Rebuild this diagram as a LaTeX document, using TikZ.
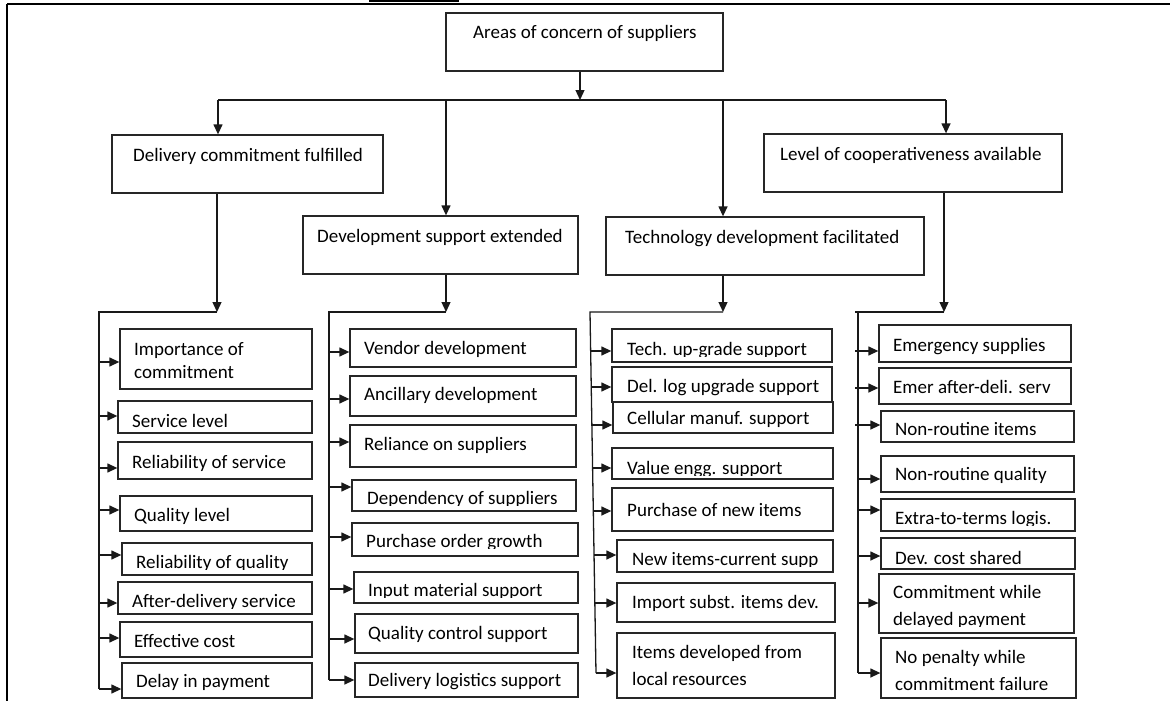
\documentclass[tikz,border=0pt]{standalone}
\usepackage{fontspec}
\setmainfont{Carlito}
\usetikzlibrary{arrows.meta,fit,calc}

\tikzset{
  box/.style={draw=black!85, line width=1.3pt, inner sep=0pt},
  txt/.style={font=\fontsize{19}{23}\selectfont, inner sep=0pt, text=black},
  conn/.style={line width=1.3pt, draw=black!90},
  arr/.style={conn, -{Triangle[length=10pt,width=9pt]}},
}

% a plain rectangle given by two corners
\newcommand\rectnode[5]{\node[box, fit={(#2,#3) (#4,#5)}] (#1) {};}
% a line of text inside a box, cut off at the box's inner bottom margin
\newcommand\boxtext[5][5]{%
  \begin{scope}
    \clip ([yshift=#1pt]#2.south west) rectangle (#2.north east);
    \node[txt, anchor=base west] at (#3,#4) {#5};
  \end{scope}}
% an arrow from a spine to a box: spine, box, vertical offset, horizontal offset on the spine
\newcommand\branch[4]{\draw[arr] ($(#1 |- #2.west)+(#4,#3)$) -- ($(#2.west)+(0,#3)$);}

\begin{document}
\begin{tikzpicture}[x=1pt,y=-1pt]
\useasboundingbox (0,0) rectangle (1170,701);

% frame
\draw[line width=2pt] (7,4.5) -- (1170,4.5);
\draw[line width=1.6pt] (7,4) -- (7,701);
\draw[line width=2.4pt] (369,1) -- (459,1);

% root and the four headings
\rectnode{root}{446}{13}{723}{71}   \boxtext{root}{473}{38.5}{Areas of concern of suppliers}
\rectnode{del}{112}{135}{383}{193}  \boxtext{del}{133}{161}{Delivery commitment fulfilled}
\rectnode{dev}{303}{216}{578}{274}  \boxtext{dev}{317}{242}{Development support extended}
\rectnode{tech}{606}{217}{924}{275} \boxtext{tech}{625}{243}{Technology development facilitated}
\rectnode{lev}{764}{134}{1062}{192} \boxtext{lev}{780}{160}{Level of cooperativeness available}

% root to headings
\coordinate (hub) at (580,100);
\coordinate (barL) at (218,100);
\coordinate (barR) at (946,100);
\coordinate (bar2) at (446,100);
\coordinate (bar3) at (723,100);
\draw[arr] (root.south -| hub) -- (hub);
\draw[conn] (barL) -- (barR);
\draw[arr] (barL) -- (barL |- del.north);
\draw[arr] (bar2) -- (bar2 |- dev.north);
\draw[arr] (bar3) -- (bar3 |- tech.north);
\draw[arr] (barR) -- (barR |- lev.north);

% ---- column 1: delivery commitment
\rectnode{c1}{120}{329}{312}{389}
\boxtext{c1}{134}{355}{Importance of}
\boxtext{c1}{134}{378}{commitment}
\rectnode{c2}{118}{401}{312}{433} \boxtext{c2}{132}{427}{Service level}
\rectnode{c3}{118}{442}{312}{479} \boxtext{c3}{132}{468}{Reliability of service}
\rectnode{c4}{120}{496}{312}{531} \boxtext{c4}{134}{521.5}{Quality level}
\rectnode{c5}{122}{543}{312}{575} \boxtext[6.5]{c5}{136}{568}{Reliability of quality}
\rectnode{c6}{118}{582}{312}{614} \boxtext[6.5]{c6}{132}{607}{After-delivery service}
\rectnode{c7}{120}{622}{312}{657} \boxtext{c7}{134}{647}{Effective cost}
\rectnode{c8}{122}{663}{312}{698} \boxtext{c8}{136}{687}{Delay in payment}

\coordinate (j1) at (217,312);
\coordinate (s1a) at (99,312);
\coordinate (s1b) at (99,689);
\draw[arr] (del.south -| j1) -- (j1);
\draw[conn] (j1) -- (s1a) -- (s1b);
\branch{s1a}{c1}{3}{0}
\branch{s1a}{c2}{-1}{0}
\branch{s1a}{c3}{7.5}{0}
\branch{s1a}{c4}{-3.5}{0}
\branch{s1a}{c5}{-4}{0}
\branch{s1a}{c6}{5}{0}
\branch{s1a}{c7}{-1.5}{0}
\branch{s1a}{c8}{8.5}{0}

% ---- column 2: development support
\rectnode{d1}{350}{329}{576}{367} \boxtext{d1}{364}{354}{Vendor development}
\rectnode{d2}{350}{376}{576}{416} \boxtext{d2}{364}{400.5}{Ancillary development}
\rectnode{d3}{350}{425}{576}{467} \boxtext{d3}{364}{450.5}{Reliance on suppliers}
\rectnode{d4}{352}{480}{576}{511} \boxtext[6.5]{d4}{367}{504}{Dependency of suppliers}
\rectnode{d5}{352}{523}{578}{556} \boxtext[8]{d5}{366}{547.5}{Purchase order growth}
\rectnode{d6}{354}{572}{578}{603} \boxtext[6.5]{d6}{368}{596}{Input material support}
\rectnode{d7}{355}{614}{578}{653} \boxtext{d7}{368}{639}{Quality control support}
\rectnode{d8}{355}{663}{578}{697} \boxtext{d8}{368}{686.5}{Delivery logistics support}

\coordinate (j2) at (446,312);
\coordinate (s2a) at (329,312);
\coordinate (s2b) at (329,680);
\draw[arr] (dev.south -| j2) -- (j2);
\draw[conn] (j2) -- (s2a) -- (s2b);
\branch{s2a}{d1}{4}{0}
\branch{s2a}{d2}{3}{0}
\branch{s2a}{d3}{-4}{0}
\branch{s2a}{d4}{-8.5}{0}
\branch{s2a}{d5}{-2.5}{0}
\branch{s2a}{d6}{1.5}{0}
\branch{s2a}{d7}{5.5}{0}
\branch{s2a}{d8}{0}{0}

% ---- column 3: technology development
\rectnode{t1}{612}{329}{832}{362} \boxtext[6.5]{t1}{627}{355}{Tech. up-grade support}
\rectnode{t2}{612}{367}{832}{402} \boxtext[3]{t2}{627}{392.5}{Del. log upgrade support}
\rectnode{t3}{613}{402}{833}{433} \boxtext[4]{t3}{627}{424}{Cellular manuf. support}
\rectnode{t4}{612}{448}{833}{479} \boxtext[4]{t4}{627}{474.5}{Value engg. support}
\rectnode{t5}{612}{488}{833}{531} \boxtext{t5}{627}{516.5}{Purchase of new items}
\rectnode{t6}{617}{540}{833}{572} \boxtext[6.5]{t6}{632}{565}{New items-current supp}
\rectnode{t7}{617}{583}{835}{622} \boxtext{t7}{632}{608}{Import subst. items dev.}
\rectnode{t8}{617}{633}{835}{698}
\boxtext{t8}{632}{658}{Items developed from}
\boxtext{t8}{632}{685}{local resources}

\coordinate (j3) at (723,312);
\coordinate (s3a) at (590,312);
\coordinate (s3b) at (596,673);
\draw[arr] (tech.south -| j3) -- (j3);
\draw[conn] (j3) -- (s3a) -- (s3b);
\branch{s3a}{t1}{5.5}{0.6}
\branch{s3a}{t2}{2.5}{1.2}
\branch{s3a}{t3}{7.5}{1.9}
\branch{s3a}{t4}{4.5}{2.6}
\branch{s3a}{t5}{1.5}{3.3}
\branch{s3a}{t6}{-1}{4.1}
\branch{s3a}{t7}{0.5}{4.8}
\branch{s3a}{t8}{7.5}{6}

% ---- column 4: cooperativeness
\rectnode{l1}{879}{325}{1071}{362} \boxtext{l1}{893}{351}{Emergency supplies}
\rectnode{l2}{879}{368}{1071}{404} \boxtext{l2}{893}{393}{Emer after-deli. serv}
\rectnode{l3}{881}{411}{1074}{442} \boxtext{l3}{895}{435}{Non-routine items}
\rectnode{l4}{881}{456}{1074}{492} \boxtext{l4}{895}{480}{Non-routine quality}
\rectnode{l5}{881}{499}{1075}{531} \boxtext[6.5]{l5}{895}{524}{Extra-to-terms logis.}
\rectnode{l6}{881}{538}{1075}{569} \boxtext[4.5]{l6}{895}{564}{Dev. cost shared}
\rectnode{l7}{879}{574}{1074}{633}
\boxtext[7.5]{l7}{893}{598}{Commitment while}
\boxtext[7.5]{l7}{893}{625}{delayed payment}
\rectnode{l8}{881}{638}{1076}{698}
\boxtext{l8}{895}{663}{No penalty while}
\boxtext{l8}{895}{690}{commitment failure}

\coordinate (j4) at (944,312);
\coordinate (s4a) at (858,312);
\coordinate (s4b) at (858,673);
\draw[arr] (lev.south -| j4) -- (j4);
\draw[conn] (j4) -- ($(s4a)+(-3,0)$);
\draw[conn] (s4a) -- (s4b);
\branch{s4a}{l1}{7.5}{-3}
\branch{s4a}{l2}{2}{-3}
\branch{s4a}{l3}{-1.5}{-3}
\branch{s4a}{l4}{5}{0}
\branch{s4a}{l5}{-5}{0}
\branch{s4a}{l6}{2.5}{0}
\branch{s4a}{l7}{-0.5}{0}
\branch{s4a}{l8}{5}{0}
\end{tikzpicture}
\end{document}
